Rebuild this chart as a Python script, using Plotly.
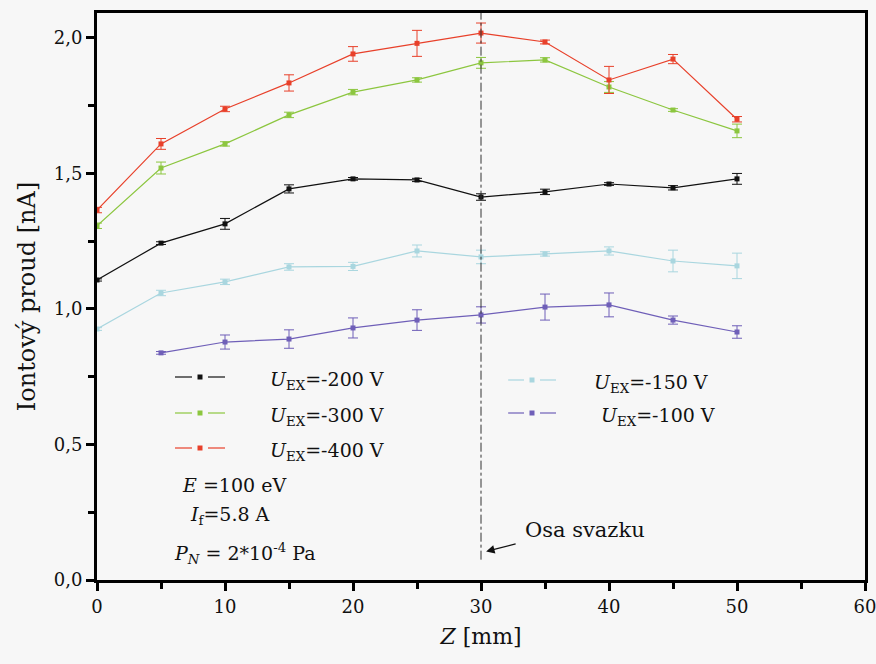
import plotly.graph_objects as go

z = [0, 5, 10, 15, 20, 25, 30, 35, 40, 45, 50]
z100 = [5, 10, 15, 20, 25, 30, 35, 40, 45, 50]

i200 = [1.107, 1.243, 1.314, 1.443, 1.480, 1.476, 1.413, 1.432, 1.461, 1.447, 1.480]
e200 = [0.004, 0.005, 0.020, 0.015, 0.005, 0.006, 0.012, 0.010, 0.005, 0.008, 0.020]

i300 = [1.307, 1.520, 1.609, 1.716, 1.800, 1.845, 1.908, 1.919, 1.819, 1.734, 1.657]
e300 = [0.010, 0.022, 0.008, 0.010, 0.010, 0.008, 0.020, 0.008, 0.020, 0.005, 0.025]

i400 = [1.365, 1.609, 1.738, 1.834, 1.941, 1.980, 2.018, 1.985, 1.845, 1.922, 1.700]
e400 = [0.010, 0.020, 0.010, 0.030, 0.027, 0.048, 0.037, 0.007, 0.050, 0.017, 0.010]

i150 = [0.926, 1.059, 1.100, 1.155, 1.157, 1.214, 1.192, 1.203, 1.214, 1.177, 1.159]
e150 = [0.005, 0.010, 0.010, 0.012, 0.015, 0.022, 0.025, 0.008, 0.015, 0.040, 0.047]

i100 = [0.838, 0.878, 0.889, 0.930, 0.959, 0.978, 1.007, 1.015, 0.959, 0.915]
e100 = [0.005, 0.026, 0.034, 0.037, 0.038, 0.030, 0.048, 0.044, 0.015, 0.023]

labels = ["-200 V", "-300 V", "-400 V", "-150 V", "-100 V"]
colors = ["#111111", "#8cc63f", "#e8402a", "#a9d6df", "#6f5fb8"]

y_ticks = [0.0, 0.5, 1.0, 1.5, 2.0]
y_ticklabels = ["0,0", "0,5", "1,0", "1,5", "2,0"]
x_ticks = [0, 10, 20, 30, 40, 50, 60]

FONT = "DejaVu Serif"
BG = "#f7f7f7"

W, H = 876, 664
L, R, T, B = 97, 865, 13, 580

def px(xp):
    return (xp - L) / (R - L)

def py(yp):
    return (B - yp) / (B - T)

fig = go.Figure()
series = [(z, i200, e200), (z, i300, e300), (z, i400, e400), (z, i150, e150), (z100, i100, e100)]
for (xs, ys, es), lab, col in zip(series, labels, colors):
    fig.add_trace(go.Scatter(
        x=xs, y=ys, mode="lines+markers", name=lab,
        line=dict(color=col, width=1.2),
        marker=dict(symbol="square", size=5, color=col),
        error_y=dict(type="data", array=es, visible=True, color=col, thickness=1, width=5),
        showlegend=False,
    ))

shapes = []
annotations = []

# beam axis line
shapes.append(dict(type="line", xref="x", yref="y", x0=30, x1=30, y0=0.075, y1=2.092,
                   line=dict(color="#333333", width=1, dash="dashdot")))

def leg_item(idx, ysym, x0, x1, xt, ytxt):
    col = colors[idx]
    xm = (x0 + x1) / 2
    shapes.append(dict(type="line", xref="paper", yref="paper", x0=px(x0), x1=px(xm - 8),
                       y0=py(ysym), y1=py(ysym), line=dict(color=col, width=1.2)))
    shapes.append(dict(type="line", xref="paper", yref="paper", x0=px(xm + 8), x1=px(x1),
                       y0=py(ysym), y1=py(ysym), line=dict(color=col, width=1.2)))
    shapes.append(dict(type="rect", xref="paper", yref="paper", x0=px(xm - 2.5), x1=px(xm + 2.5),
                       y0=py(ysym + 2.5), y1=py(ysym - 2.5), fillcolor=col, line=dict(width=0)))
    annotations.append(dict(xref="paper", yref="paper", x=px(xt), y=py(ytxt), xanchor="left",
                            yanchor="middle", showarrow=False,
                            text="<i>U</i><sub>EX</sub>=" + labels[idx],
                            font=dict(family=FONT, size=19, color="#111111")))

for idx, yp in [(0, 377), (1, 413), (2, 448)]:
    leg_item(idx, yp, 175, 225, 268, yp + 3)
for idx, yp in [(3, 380), (4, 413)]:
    xt = 592 if idx == 3 else 599
    leg_item(idx, yp, 508, 556, xt, yp + 3)

txtfont = dict(family=FONT, size=19, color="#111111")
annotations += [
    dict(xref="paper", yref="paper", x=px(180), y=py(485), xanchor="left", yanchor="middle",
         showarrow=False, text="<i>E</i> =100 eV", font=txtfont),
    dict(xref="paper", yref="paper", x=px(188), y=py(515), xanchor="left", yanchor="middle",
         showarrow=False, text="<i>I</i><sub>f</sub>=5.8 A", font=txtfont),
    dict(xref="paper", yref="paper", x=px(172), y=py(553), xanchor="left", yanchor="middle",
         showarrow=False, text="<i>P</i><sub><i>N</i></sub> = 2*10<sup>-4</sup> Pa", font=txtfont),
    dict(xref="paper", yref="paper", x=px(523), y=py(530), xanchor="left", yanchor="middle",
         showarrow=False, text="Osa svazku", font=dict(family=FONT, size=21, color="#111111")),
    dict(x=30.4, y=0.105, xref="x", yref="y", text="", showarrow=True,
         ax=31, ay=-8, axref="pixel", ayref="pixel",
         arrowhead=2, arrowsize=1.3, arrowwidth=1.3, arrowcolor="#111111"),
]

fig.update_layout(
    width=W, height=H,
    margin=dict(l=L, r=W - R, t=T, b=H - B, autoexpand=False),
    paper_bgcolor=BG, plot_bgcolor=BG,
    font=dict(family=FONT, size=18, color="#111111"),
    shapes=shapes, annotations=annotations,
    xaxis=dict(range=[0, 60], tickvals=x_ticks, ticks="outside", ticklen=8, tickwidth=2.5,
               tickcolor="#000", showline=True, linewidth=3, linecolor="#000", mirror=True,
               showgrid=False, zeroline=False, ticklabeloverflow="allow", automargin=False,
               minor=dict(tickvals=[5, 15, 25, 35, 45, 55], ticks="outside", ticklen=6,
                          tickwidth=2.5, tickcolor="#000"),
               title=dict(text="<i>Z</i> [mm]", font=dict(family=FONT, size=22), standoff=14),
               tickfont=dict(family=FONT, size=18)),
    yaxis=dict(range=[0, 2.092], tickvals=y_ticks, ticktext=y_ticklabels, ticks="outside",
               ticklen=8, tickwidth=2.5, tickcolor="#000", showline=True, linewidth=3,
               linecolor="#000", mirror=True, showgrid=False, zeroline=False, automargin=False,
               minor=dict(tickvals=[0.25, 0.75, 1.25, 1.75], ticks="outside", ticklen=6,
                          tickwidth=2.5, tickcolor="#000"),
               title=dict(text="Iontový proud [nA]", font=dict(family=FONT, size=24), standoff=12),
               tickfont=dict(family=FONT, size=18)),
)

fig.write_html("out.html", config={"displayModeBar": False},
               post_script="document.body.style.margin='0';document.body.style.overflow='hidden';")
